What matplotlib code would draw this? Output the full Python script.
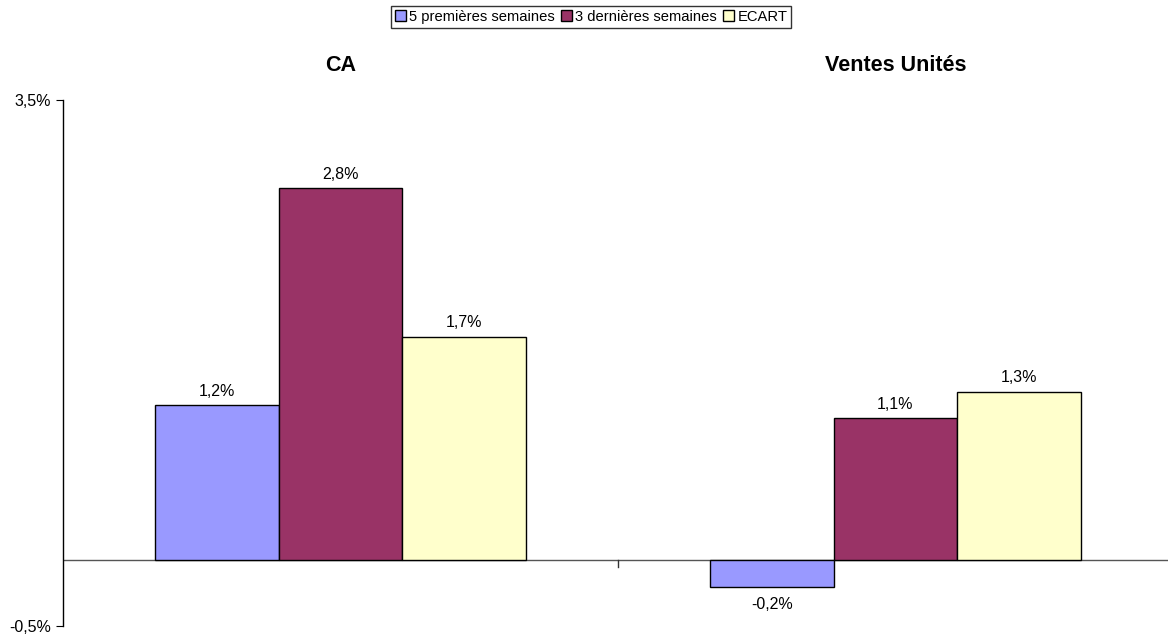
import numpy as np
import matplotlib.pyplot as plt

plt.rcParams['font.family'] = ['Liberation Sans', 'DejaVu Sans']

# Data
categories = ["CA", "Ventes Unités"]
series_names = ["5 premières semaines", "3 dernières semaines", "ECART"]
first_weeks = [1.18, -0.20]
last_weeks = [2.83, 1.08]
ecart = [1.70, 1.28]
colors = ["#9999FF", "#993366", "#FFFFCC"]

series = [first_weeks, last_weeks, ecart]

fig = plt.figure(figsize=(11.68, 6.34), dpi=100)
ax = fig.add_axes([63 / 1168, 8 / 634, 1110 / 1168, 526 / 634])

x = np.arange(len(categories))
width = 0.223
for i, (vals, name, col) in enumerate(zip(series, series_names, colors)):
    pos = x + (i - 1) * width
    bars = ax.bar(pos, vals, width, color=col, edgecolor="black", linewidth=1, label=name)
    for b, v in zip(bars, vals):
        lbl = f"{v:.1f}%".replace(".", ",")
        if v >= 0:
            ax.text(b.get_x() + b.get_width() / 2, v + 0.05, lbl, ha="center", va="bottom", fontsize=11.5)
        else:
            ax.text(b.get_x() + b.get_width() / 2, v - 0.08, lbl, ha="center", va="top", fontsize=11.5)

ax.set_xlim(-0.5, 1.5)
ax.set_ylim(-0.5, 3.5)
ax.axhline(0, color="#555555", linewidth=1, zorder=0)

# y axis: only the extreme ticks
ax.set_yticks([-0.5, 3.5])
ax.set_yticklabels(["-0,5%", "3,5%"], fontsize=11.5)
ax.tick_params(axis="y", length=5, direction="out")

# x axis: single tick between categories on the zero line
ax.set_xticks([])
ax.plot([0.5, 0.5], [0, -0.055], color="#333333", linewidth=1, clip_on=False)

for s in ["top", "right", "bottom"]:
    ax.spines[s].set_visible(False)
ax.spines["left"].set_linewidth(1)

# Category titles above
for xi, cat in zip(x, categories):
    ax.text(xi, 1.066, cat, transform=ax.get_xaxis_transform(), ha="center", va="center",
            fontsize=15.5, fontweight="bold")

leg = fig.legend(loc="center", bbox_to_anchor=(591 / 1168, 1 - 17 / 634), ncol=3, fontsize=10.6,
                 frameon=True, fancybox=False, edgecolor="black", handlelength=0.75, handleheight=0.75,
                 handletextpad=0.2, columnspacing=0.45, borderpad=0.25, borderaxespad=0)
leg.get_frame().set_linewidth(1)

plt.savefig("out.png", dpi=100)
